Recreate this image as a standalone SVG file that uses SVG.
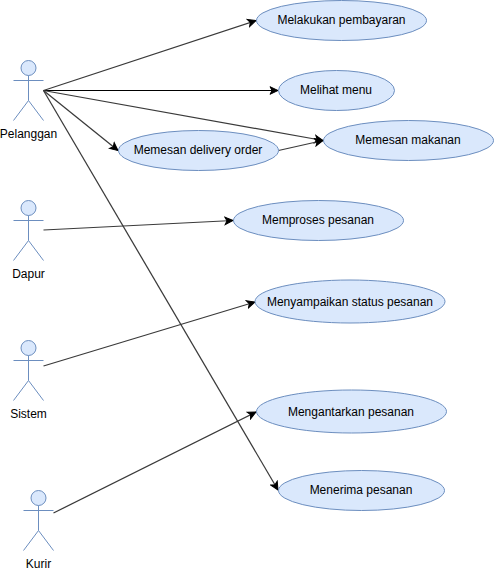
<svg xmlns="http://www.w3.org/2000/svg" width="494" height="572" viewBox="0 0 494 572">
<style>
.n ellipse{fill:#dae8fc;stroke:#6c8ebf;stroke-width:1}
.a circle{fill:#dae8fc;stroke:#6c8ebf}
.a path{fill:none;stroke:#6c8ebf}
text{font-family:"Liberation Sans",Arial,sans-serif;font-size:12px;fill:#000;text-anchor:middle}
.c line{stroke:#000;stroke-width:1;marker-end:url(#ah);shape-rendering:geometricPrecision}
.c line.d{stroke:#3a3a3a;stroke-width:1.25}
</style>
<defs>
<marker id="ah" markerUnits="userSpaceOnUse" viewBox="0 0 10 10" refX="9" refY="5" markerWidth="10" markerHeight="10" orient="auto"><path d="M1 1.2L9 5L1 8.8L3 5Z" fill="#000" stroke="#000"/></marker>
</defs>
<rect width="494" height="572" fill="#fff"/>
<g class="c" id="connectors">
<line class="d" x1="43.5" y1="90.5" x2="256" y2="20.5"/>
<line x1="43.5" y1="90.5" x2="278" y2="90.5"/>
<line class="d" x1="43.5" y1="90.5" x2="323" y2="140.5"/>
<line class="d" x1="43.5" y1="90.5" x2="118" y2="150.5"/>
<line class="d" x1="278.5" y1="150.5" x2="323" y2="140.5"/>
<line class="d" x1="43.5" y1="90.5" x2="278" y2="490"/>
<line class="d" x1="43.5" y1="230" x2="233" y2="220.5"/>
<line class="d" x1="43.5" y1="366" x2="255" y2="302"/>
<line class="d" x1="53.5" y1="513" x2="256" y2="412"/>
</g>
<g class="a" id="actor-pelanggan"><circle cx="28.5" cy="68" r="7.5"/><path d="M28.5 75.5V100.5M13.5 80.5H43.5M28.5 100.5L13.5 120.5M28.5 100.5L43.5 120.5"/><text x="28.5" y="138">Pelanggan</text></g>
<g class="a" id="actor-dapur"><circle cx="28.5" cy="208" r="7.5"/><path d="M28.5 215.5V240.5M13.5 220.5H43.5M28.5 240.5L13.5 260.5M28.5 240.5L43.5 260.5"/><text x="28.5" y="278">Dapur</text></g>
<g class="a" id="actor-sistem"><circle cx="28.5" cy="348" r="7.5"/><path d="M28.5 355.5V380.5M13.5 360.5H43.5M28.5 380.5L13.5 400.5M28.5 380.5L43.5 400.5"/><text x="28.5" y="418">Sistem</text></g>
<g class="a" id="actor-kurir"><circle cx="38.5" cy="498" r="7.5"/><path d="M38.5 505.5V530.5M23.5 510.5H53.5M38.5 530.5L23.5 550.5M38.5 530.5L53.5 550.5"/><text x="38.5" y="568">Kurir</text></g>
<g class="n" id="uc-bayar"><ellipse cx="341.5" cy="20.5" rx="85" ry="20"/><text x="341.5" y="24">Melakukan pembayaran</text></g>
<g class="n" id="uc-menu"><ellipse cx="336.5" cy="90.5" rx="58" ry="20"/><text x="336" y="94">Melihat menu</text></g>
<g class="n" id="uc-makanan"><ellipse cx="408.5" cy="140.5" rx="85" ry="20"/><text x="408" y="144">Memesan makanan</text></g>
<g class="n" id="uc-delivery"><ellipse cx="198.5" cy="150.5" rx="80" ry="20"/><text x="198" y="154">Memesan delivery order</text></g>
<g class="n" id="uc-proses"><ellipse cx="318.5" cy="220.5" rx="85" ry="20"/><text x="318" y="224">Memproses pesanan</text></g>
<g class="n" id="uc-status"><ellipse cx="350" cy="301.5" rx="95" ry="21.5"/><text x="350" y="306">Menyampaikan status pesanan</text></g>
<g class="n" id="uc-antar"><ellipse cx="351.5" cy="411.5" rx="95" ry="21.5"/><text x="351" y="416">Mengantarkan pesanan</text></g>
<g class="n" id="uc-terima"><ellipse cx="361.5" cy="490.5" rx="83" ry="20"/><text x="361" y="494">Menerima pesanan</text></g>
</svg>
